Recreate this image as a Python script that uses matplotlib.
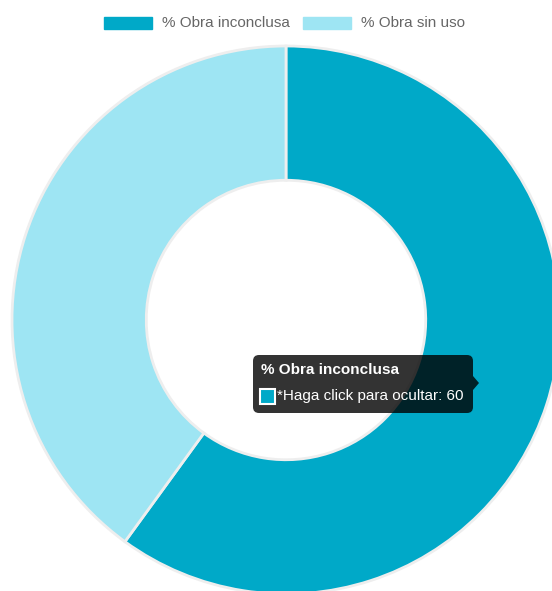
import matplotlib
matplotlib.use("Agg")
import matplotlib.pyplot as plt
from matplotlib.patches import Rectangle, FancyBboxPatch, Polygon

categories = ["% Obra inconclusa", "% Obra sin uso"]
values = [60, 40]
colors = ["#00A9C8", "#9EE5F3"]
tooltip_title = "% Obra inconclusa"
tooltip_label = "*Haga click para ocultar"

W, H = 552, 591
fig = plt.figure(figsize=(W / 100, H / 100), dpi=100)
ax = fig.add_axes([0, 0, 1, 1])
ax.axis("off")

plt.rcParams["font.family"] = ["Liberation Sans", "DejaVu Sans"]

cx, cy, R = 286, H - 320, 274
ax.pie(values, colors=colors, startangle=90, counterclock=False,
       center=(cx, cy), radius=R,
       wedgeprops=dict(width=R * 0.49, edgecolor="#eeeeee", linewidth=2))
ax.set_xlim(0, W)
ax.set_ylim(0, H)
ax.set_aspect("auto")

# legend
fs = 11
lx = [104, 303]
for x0, lab, col in zip(lx, categories, colors):
    ax.add_patch(Rectangle((x0, H - 29), 48, 12, facecolor=col,
                           edgecolor=col, linewidth=1))
    ax.text(x0 + 58, H - 23, lab, fontsize=fs, color="#666666",
            va="center", ha="left")

# tooltip
bx0, by0, bx1, by1 = 253, H - 413, 473, H - 355
ax.add_patch(FancyBboxPatch((bx0, by0), bx1 - bx0, by1 - by0,
                            boxstyle="round,pad=0,rounding_size=6",
                            facecolor=(0, 0, 0, 0.8), edgecolor="none"))
ax.add_patch(Polygon([(bx1, H - 376), (bx1 + 6, H - 383), (bx1, H - 390)],
                     closed=True, facecolor=(0, 0, 0, 0.8), edgecolor="none"))
ax.text(261, H - 370, tooltip_title, fontsize=fs, fontweight="bold",
        color="white", va="center", ha="left")
ax.add_patch(Rectangle((260, H - 404), 15, 15, facecolor=colors[0],
                       edgecolor="white", linewidth=1.5))
ax.text(277, H - 396, f"{tooltip_label}: {values[0]}", fontsize=fs,
        color="white", va="center", ha="left")

fig.savefig("out.png", dpi=100)
